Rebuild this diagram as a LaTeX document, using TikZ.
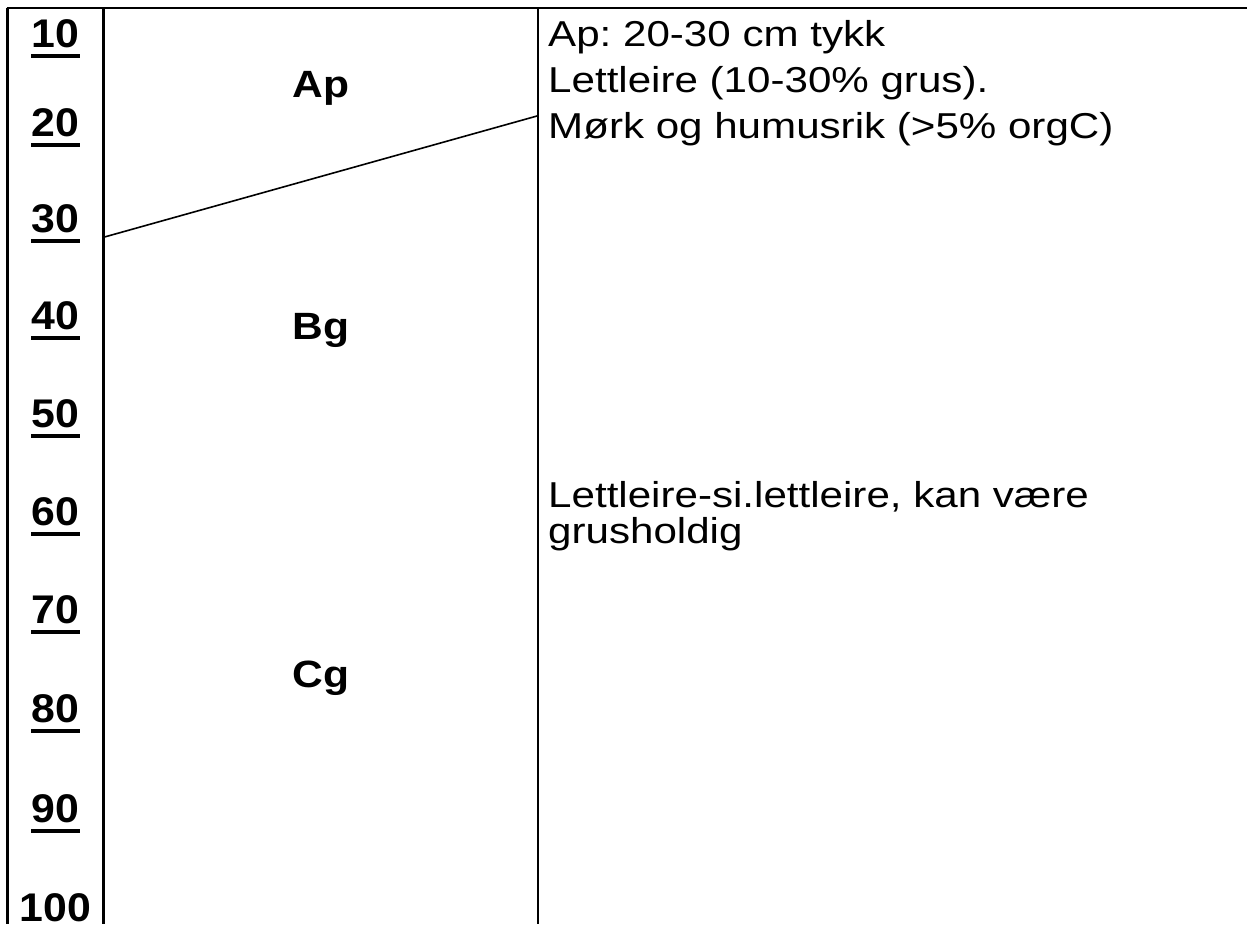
\documentclass[tikz,border=0pt]{standalone}
\usepackage{fontspec}
\setmainfont{Liberation Sans}
\newfontfamily\depthfont[FakeStretch=1.07]{Liberation Sans}
\newfontfamily\horfont[FakeStretch=1.12]{Liberation Sans}
\newfontfamily\descfont[FakeStretch=1.17]{Liberation Sans}
\begin{document}
\frenchspacing
\begin{tikzpicture}[x=1pt,y=-1pt,
  depth/.style={font=\depthfont\fontsize{40}{40}\selectfont\bfseries, inner sep=0pt, anchor=base},
  horizon/.style={font=\horfont\fontsize{38}{38}\selectfont\bfseries, inner sep=0pt, anchor=base},
  desc/.style={font=\descfont\fontsize{36}{36}\selectfont, inner sep=0pt, anchor=base west},
  frame/.style={line width=2.8pt, black},
  boundary/.style={line width=1.6pt, black},
  uline/.style={line width=4pt, black}]
\useasboundingbox (0,0) rectangle (1247,924);
% frame
\coordinate (tl) at (6.5,8);
\coordinate (tr) at (1247,8);
\coordinate (c1t) at (103.5,8);
\coordinate (c1b) at (103.5,924);
\coordinate (c2t) at (538,8);
\coordinate (c2b) at (538,924);
\coordinate (c0t) at (7.5,8);
\coordinate (c0b) at (7.5,924);
\draw[frame] (tl) -- (tr);
\draw[frame] (c0t) -- (c0b);
\draw[frame] (c1t) -- (c1b);
\draw[frame] (c2t) -- (c2b);
% boundary Ap / Bg
\coordinate (bl) at (104.5,237);
\coordinate (br) at (537,116);
\draw[boundary] (bl) -- (br);
% depth labels
\foreach \n/\yb in {10/47,20/136,30/232,40/329,50/427,60/525,70/623,80/722,90/822}{
  \node[depth] (d\n) at (55.5,\yb) {\n};
  \draw[uline] ([yshift=-9pt]d\n.base west) -- ([yshift=-9pt]d\n.base east);
}
\node[depth] (d100) at (55.5,921) {100};
% horizons
\node[horizon] (ap) at (321,97) {Ap};
\node[horizon] (bg) at (321,339) {Bg};
\node[horizon] (cg) at (321,687) {Cg};
% descriptions
\node[desc] (t1) at (548,46) {Ap: 20-30 cm tykk};
\node[desc] (t2) at (548,92) {Lettleire (10-30\% grus).};
\node[desc] (t3) at (548,138) {Mørk og humusrik (>5\% orgC)};
\node[desc] (t4) at (548,507) {Lettleire-si.lettleire, kan være};
\node[desc] (t5) at (548,543) {grusholdig};
\end{tikzpicture}
\end{document}
